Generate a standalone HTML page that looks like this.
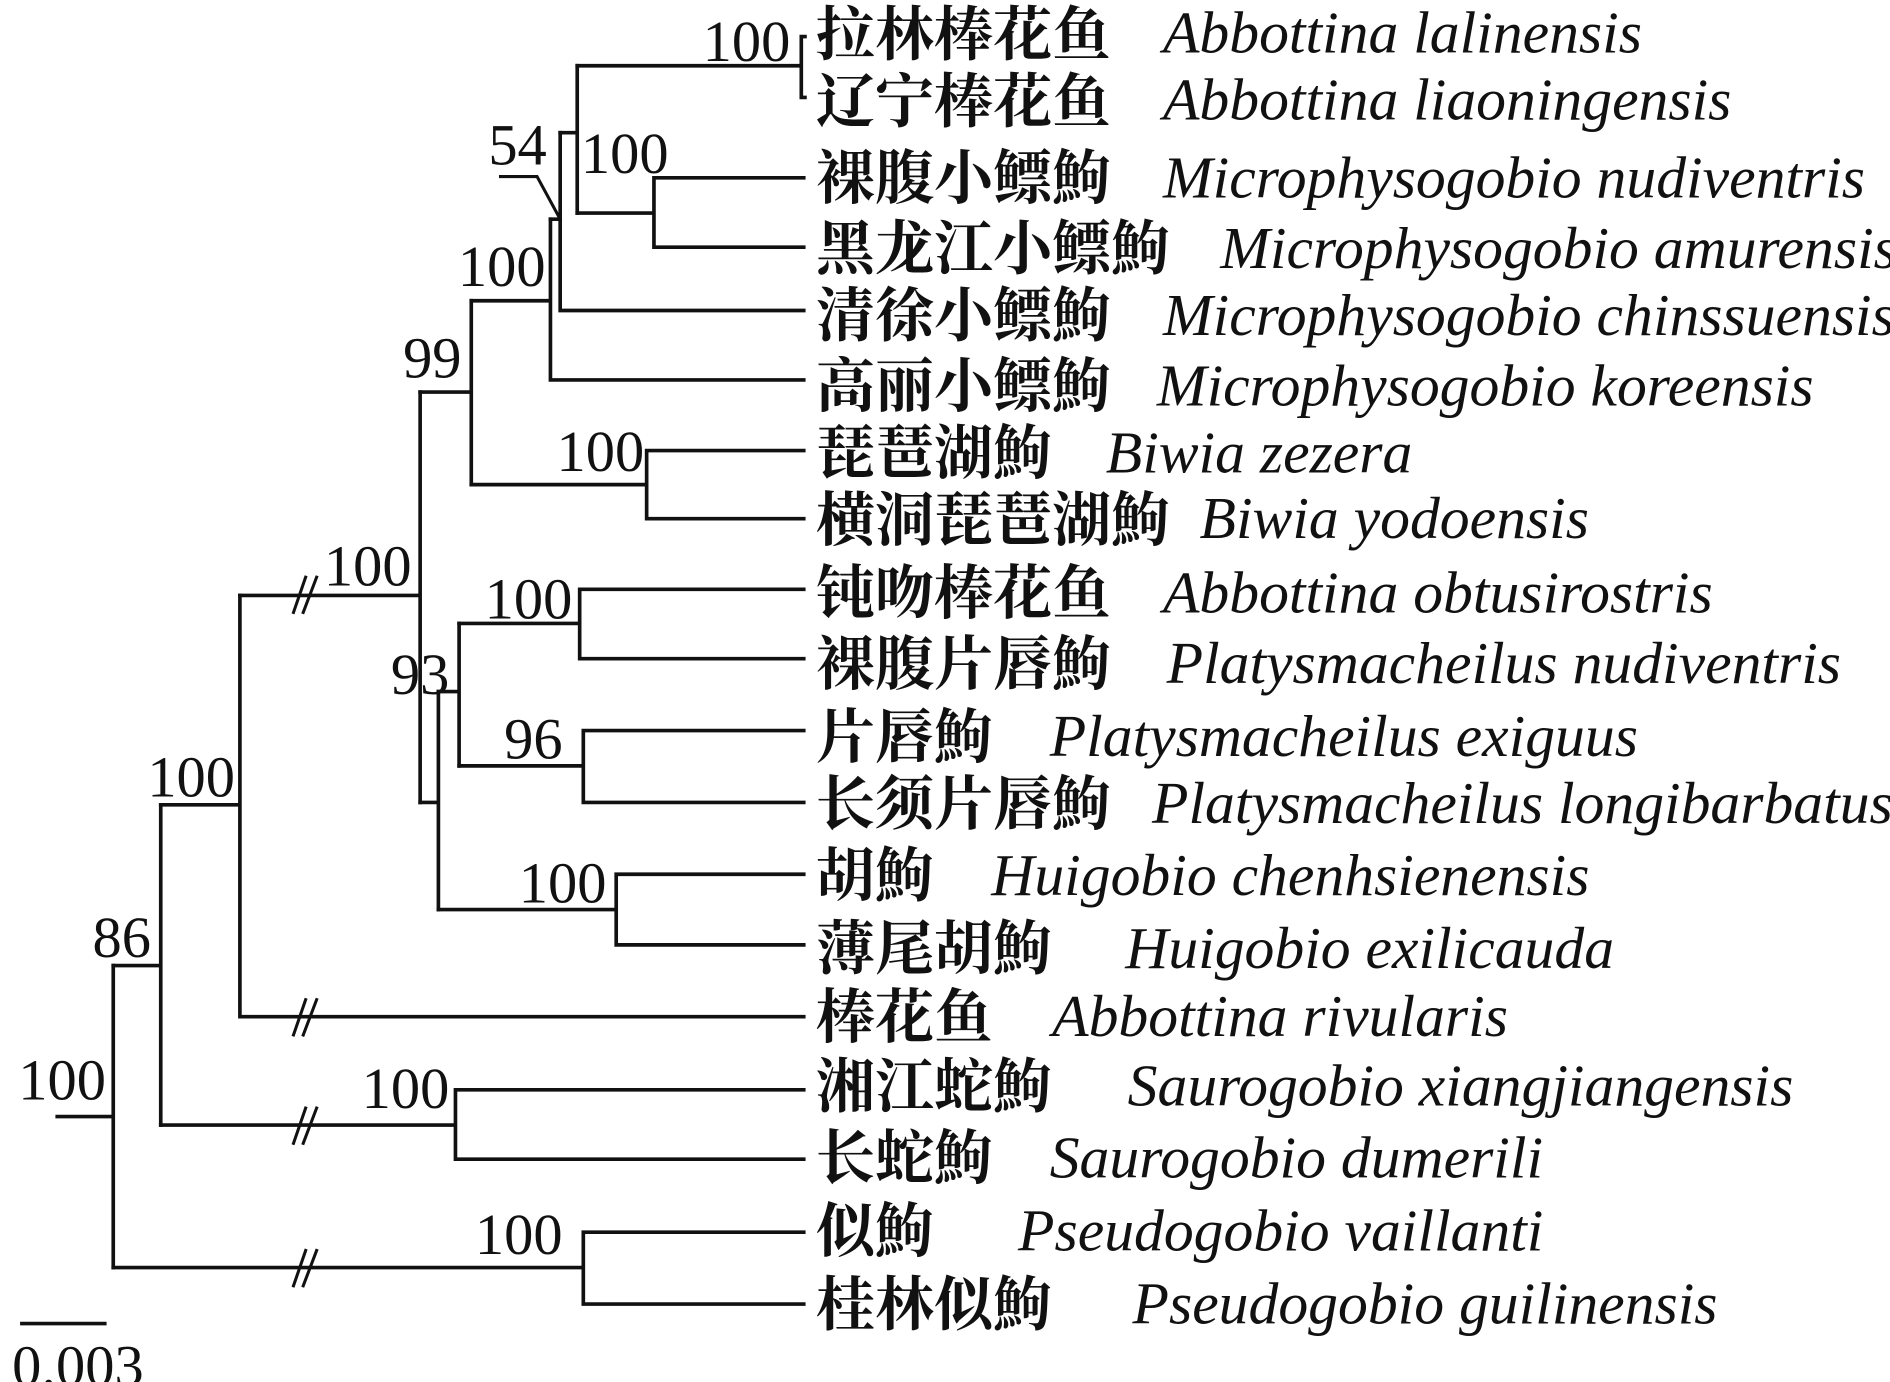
<!DOCTYPE html>
<html><head><meta charset="utf-8"><style>
html,body{margin:0;padding:0;background:#fff;}
svg{display:block;}
.c{font-family:"Liberation Serif","Noto Serif CJK SC","Noto Sans CJK SC",serif;font-weight:bold;font-size:48.5px;}
.l{font-family:"Liberation Serif",serif;font-style:italic;font-size:49px;}
.n{font-family:"Liberation Serif",serif;font-size:48px;}
</style></head><body>
<svg width="1890" height="1382" viewBox="0 0 1552 1135" preserveAspectRatio="none" xmlns="http://www.w3.org/2000/svg">
<g stroke="#111" stroke-width="3" fill="none" stroke-linecap="square">
<path d="M658,30V80 M658,30h3 M658,80h3 M474,54H658"/>
<path d="M537,146V203 M537,146H660 M537,203H660 M474,175H537"/>
<path d="M474,54V175 M460,109H474"/>
<path d="M460,109V255 M460,255H660 M452,180H460"/>
<path d="M452,180V312 M452,312H660 M387,247H452"/>
<path d="M531,370V426 M531,370H660 M531,426H660 M387,398H531"/>
<path d="M387,247V398 M345,322H387"/>
<path d="M476,484V541 M476,484H660 M476,541H660 M377,512H476"/>
<path d="M479,600V659 M479,600H660 M479,659H660 M377,629H479"/>
<path d="M377,512V629 M360,568H377"/>
<path d="M506,718V776 M506,718H660 M506,776H660 M360,747H506"/>
<path d="M360,568V747 M345,659H360"/>
<path d="M345,322V659 M197,489H345"/>
<path d="M197,489V835 M197,835H660 M132,661H197"/>
<path d="M374,895V952 M374,895H660 M374,952H660 M132,924H374"/>
<path d="M132,661V924 M93,793H132"/>
<path d="M479,1012V1071 M479,1012H660 M479,1071H660 M93,1041H479"/>
<path d="M93,793V1041 M47,917H93"/>
<path d="M411,145H441 L460,180" stroke-width="2.5"/>
<path d="M18,1087H86"/>
<path d="M241,503L251,474 M249,503L260,474" stroke-width="2.5"/>
<path d="M241,850L251,821 M249,850L260,821" stroke-width="2.5"/>
<path d="M241,939L251,910 M249,939L260,910" stroke-width="2.5"/>
<path d="M241,1056L251,1027 M249,1056L260,1027" stroke-width="2.5"/>
</g>
<g class="n" fill="#111">
<text x="577" y="50">100</text>
<text x="401" y="135">54</text>
<text x="477" y="142">100</text>
<text x="376" y="235">100</text>
<text x="331" y="310">99</text>
<text x="457" y="387">100</text>
<text x="266" y="481">100</text>
<text x="398" y="508">100</text>
<text x="321" y="570">93</text>
<text x="414" y="623">96</text>
<text x="121" y="654">100</text>
<text x="426" y="741">100</text>
<text x="76" y="786">86</text>
<text x="15" y="903">100</text>
<text x="297" y="910">100</text>
<text x="390" y="1030">100</text>
<text x="10" y="1138">0.003</text>
</g>
<g class="c" fill="#111">
<text x="670" y="45">拉林棒花鱼</text>
<text x="670" y="100">辽宁棒花鱼</text>
<text x="670" y="163">裸腹小鳔鮈</text>
<text x="670" y="221">黑龙江小鳔鮈</text>
<text x="670" y="276">清徐小鳔鮈</text>
<text x="670" y="334">高丽小鳔鮈</text>
<text x="670" y="389">琵琶湖鮈</text>
<text x="670" y="444">横洞琵琶湖鮈</text>
<text x="670" y="504">钝吻棒花鱼</text>
<text x="670" y="562">裸腹片唇鮈</text>
<text x="670" y="622">片唇鮈</text>
<text x="670" y="677">长须片唇鮈</text>
<text x="670" y="736">胡鮈</text>
<text x="670" y="796">薄尾胡鮈</text>
<text x="670" y="852">棒花鱼</text>
<text x="670" y="909">湘江蛇鮈</text>
<text x="670" y="968">长蛇鮈</text>
<text x="670" y="1028">似鮈</text>
<text x="670" y="1088">桂林似鮈</text>
</g>
<g class="l" fill="#111">
<text x="955" y="43">Abbottina lalinensis</text>
<text x="955" y="98">Abbottina liaoningensis</text>
<text x="955" y="162">Microphysogobio nudiventris</text>
<text x="1002" y="220">Microphysogobio amurensis</text>
<text x="955" y="275">Microphysogobio chinssuensis</text>
<text x="950" y="333">Microphysogobio koreensis</text>
<text x="908" y="388">Biwia zezera</text>
<text x="985" y="442">Biwia yodoensis</text>
<text x="955" y="503">Abbottina obtusirostris</text>
<text x="958" y="561">Platysmacheilus nudiventris</text>
<text x="862" y="621">Platysmacheilus exiguus</text>
<text x="946" y="676">Platysmacheilus longibarbatus</text>
<text x="814" y="735">Huigobio chenhsienensis</text>
<text x="924" y="795">Huigobio exilicauda</text>
<text x="864" y="851">Abbottina rivularis</text>
<text x="926" y="908">Saurogobio xiangjiangensis</text>
<text x="862" y="967">Saurogobio dumerili</text>
<text x="836" y="1027">Pseudogobio vaillanti</text>
<text x="930" y="1087">Pseudogobio guilinensis</text>
</g>
</svg>
</body></html>
